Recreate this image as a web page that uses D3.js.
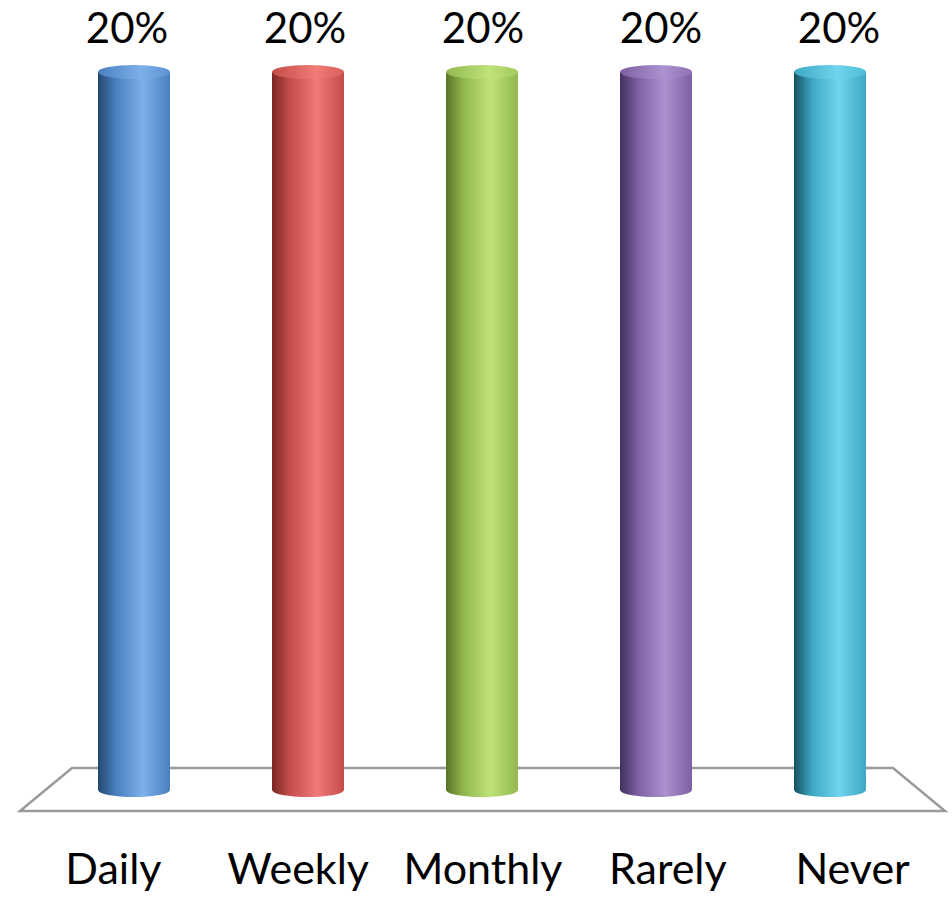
<!DOCTYPE html>
<html>
<head>
<meta charset="utf-8">
<script src="https://cdn.jsdelivr.net/npm/d3@7"></script>
<style>
  html, body { margin: 0; padding: 0; background: #fff; }
  svg { display: block; }
  text { font-family: Lato, "Open Sans", sans-serif; fill: #000; }
</style>
</head>
<body>
<div id="chart"></div>
<script>
const categories = ['Daily', 'Weekly', 'Monthly', 'Rarely', 'Never'];
const values = [0.20, 0.20, 0.20, 0.20, 0.20];
const valueLabels = ['20%', '20%', '20%', '20%', '20%'];
// dark edge, highlight, right side, cap colour
const palettes = [
  ['#24476f', '#7db0ea', '#4a7fc0', '#5d93d3'],
  ['#7a2624', '#f07a76', '#c44d4a', '#d9625e'],
  ['#587425', '#bfe27a', '#93b84f', '#a4cb5e'],
  ['#43305f', '#ad92d0', '#7c60a2', '#8d71b4'],
  ['#16505e', '#6fd4ec', '#3ea8c4', '#4dbbd6']
];

const width = 952, height = 898;
const barW = 72, ry = 7;

const svg = d3.select('#chart').append('svg')
    .attr('width', width)
    .attr('height', height);

const defs = svg.append('defs');

// bar centres sit on the back of the floor
const x = d3.scalePoint()
    .domain(categories)
    .range([47, 917])
    .padding(0.5);

// value labels float slightly in front (wider spread)
const xValue = d3.scalePoint()
    .domain(categories)
    .range([38, 928])
    .padding(0.5);

// labels are spread along the front edge of the floor
const xLabel = d3.scalePoint()
    .domain(categories)
    .range([21, 945])
    .padding(0.5);

const y = d3.scaleLinear()
    .domain([0, 0.2])
    .range([790, 72]);

// floor (3d plane)
const floor = [[72, 768], [893, 768], [945, 811], [20, 811]];
svg.append('path')
    .attr('d', d3.line()(floor) + 'Z')
    .attr('fill', '#fff')
    .attr('stroke', '#9a9a9a')
    .attr('stroke-width', 2.5)
    .attr('stroke-linejoin', 'miter');

// gradients for each cylinder
palettes.forEach((p, i) => {
  const g = defs.append('linearGradient')
      .attr('id', 'side' + i)
      .attr('x1', '0%').attr('x2', '100%');
  g.append('stop').attr('offset', '0%').attr('stop-color', p[0]);
  g.append('stop').attr('offset', '25%').attr('stop-color', p[2]);
  g.append('stop').attr('offset', '62%').attr('stop-color', p[1]);
  g.append('stop').attr('offset', '100%').attr('stop-color', p[2]);

  const c = defs.append('linearGradient')
      .attr('id', 'cap' + i)
      .attr('x1', '0%').attr('x2', '100%');
  c.append('stop').attr('offset', '0%').attr('stop-color', p[2]);
  c.append('stop').attr('offset', '60%').attr('stop-color', p[1]);
  c.append('stop').attr('offset', '100%').attr('stop-color', p[3]);
});

const bars = svg.append('g')
  .selectAll('g')
  .data(categories)
  .enter().append('g');

bars.each(function(d, i) {
  const g = d3.select(this);
  const cx = x(d);
  const y0 = y(0), y1 = y(values[i]);
  const l = cx - barW / 2, r = cx + barW / 2;
  const rx = barW / 2;

  // body with rounded bottom
  g.append('path')
      .attr('d', `M${l},${y1} L${l},${y0} A${rx},${ry} 0 0 0 ${r},${y0} L${r},${y1} Z`)
      .attr('fill', `url(#side${i})`);

  // top cap
  g.append('ellipse')
      .attr('cx', cx)
      .attr('cy', y1)
      .attr('rx', rx)
      .attr('ry', ry)
      .attr('fill', `url(#cap${i})`);
});

// value labels
svg.append('g')
  .selectAll('text')
  .data(categories)
  .enter().append('text')
    .attr('x', d => xValue(d))
    .attr('y', 43)
    .attr('text-anchor', 'middle')
    .style('font-size', '42px')
    .text((d, i) => valueLabels[i]);

// category labels
svg.append('g')
  .selectAll('text')
  .data(categories)
  .enter().append('text')
    .attr('x', d => xLabel(d))
    .attr('y', 884)
    .attr('text-anchor', 'middle')
    .style('font-size', '43px')
    .text(d => d);
</script>
</body>
</html>
